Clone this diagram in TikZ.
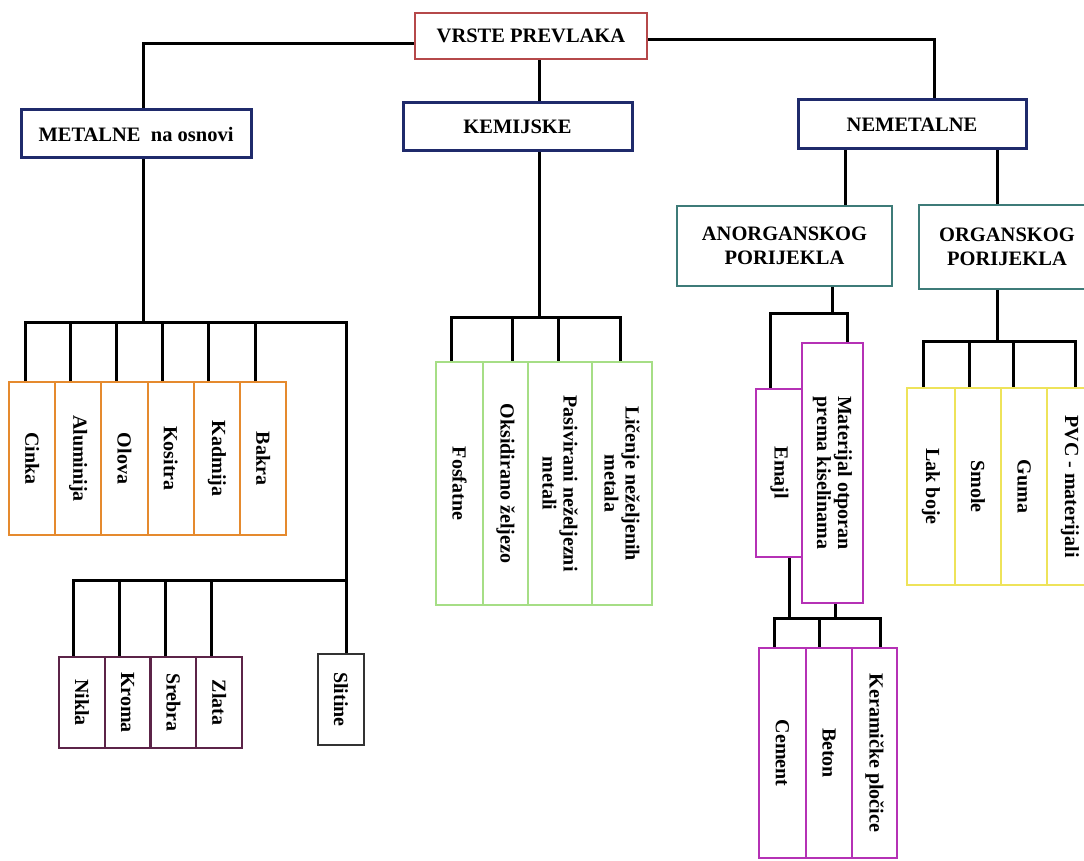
\documentclass[tikz,border=0pt]{standalone}
\usepackage{fontspec}
\setmainfont{Liberation Serif}
\usetikzlibrary{backgrounds}
\definecolor{rootred}{HTML}{B5484A}
\definecolor{navy}{HTML}{1F2A6B}
\definecolor{tealc}{HTML}{3E7B78}
\definecolor{orangec}{HTML}{E58A2E}
\definecolor{greenc}{HTML}{A6DE86}
\definecolor{darkpurple}{HTML}{5C2448}
\definecolor{slitc}{HTML}{333333}
\definecolor{magentac}{HTML}{B531B5}
\definecolor{yellowc}{HTML}{EEE35A}
\newcommand\lbl{\bfseries\fontsize{20}{21}\selectfont}
\newcommand\hlbl{\bfseries\fontsize{20.5}{24}\selectfont}
\begin{document}
\begin{tikzpicture}[x=1pt,y=-1pt,
  conn/.style={line width=3pt, draw=black, line join=miter},
  bx/.style={draw, line width=2pt, fill=white, inner sep=0pt, align=center, font=\lbl},
  hbx/.style={bx, line width=3pt, font=\hlbl},
  vbx/.style={bx, rotate=-90}]
\useasboundingbox (0,0) rectangle (1084,861);
\clip (0,0) rectangle (1084,861);

% top levels
\node[bx, font=\hlbl, draw=rootred, minimum width=232pt, minimum height=46pt] (root) at (531,36) {VRSTE PREVLAKA};
\node[hbx, draw=navy, minimum width=230pt, minimum height=48pt] (metal) at (136,134) {METALNE\ \ na osnovi};
\node[hbx, draw=navy, minimum width=229pt, minimum height=48pt] (kem) at (517.5,127) {KEMIJSKE};
\node[hbx, draw=navy, minimum width=228pt, minimum height=49pt] (nemet) at (912,124.5) {NEMETALNE};
\node[bx, font=\hlbl, draw=tealc, line width=2.5pt, minimum width=215pt, minimum height=80pt] (anorg) at (784.5,246) {ANORGANSKOG\\PORIJEKLA};
\node[bx, font=\hlbl, draw=tealc, line width=2.5pt, minimum width=176pt, minimum height=84pt] (org) at (1007,247) {ORGANSKOG\\PORIJEKLA};

% metal upper row
\tikzset{orng/.style={vbx, draw=orangec, minimum width=153pt, minimum height=46.2pt}}
\node[orng] (cinka) at (32.1,458.5) {Cinka};
\node[orng] (alum) at (78.3,458.5) {Aluminija};
\node[orng] (olova) at (124.5,458.5) {Olova};
\node[orng] (kositra) at (170.7,458.5) {Kositra};
\node[orng] (kadmija) at (216.9,458.5) {Kadmija};
\node[orng] (bakra) at (263.1,458.5) {Bakra};

% metal lower row
\tikzset{dpur/.style={vbx, draw=darkpurple, minimum width=91pt, minimum height=45.75pt}}
\node[dpur] (nikla) at (81.9,702.5) {Nikla};
\node[dpur] (kroma) at (127.6,702.5) {Kroma};
\node[dpur] (srebra) at (173.4,702.5) {Srebra};
\node[dpur] (zlata) at (219.1,702.5) {Zlata};
\node[vbx, draw=slitc, minimum width=91pt, minimum height=46pt] (slitine) at (341,699.5) {Slitine};

% kemijske
\tikzset{grn/.style={vbx, draw=greenc, minimum width=243pt}}
\node[grn, minimum height=47pt] (fosf) at (459.5,483.5) {Fosfatne};
\node[grn, minimum height=45pt] (oks) at (505.5,483.5) {Oksidirano željezo};
\node[grn, minimum height=64pt] (pas) at (560,483.5) {Pasivirani neželjezni\\metali};
\node[grn, minimum height=60pt] (lic) at (622,483.5) {Ličenje neželjenih\\metala};

% anorganskog
\tikzset{mag/.style={vbx, draw=magentac, line width=2.5pt}}
\node[mag, minimum width=168pt, minimum height=47pt] (emajl) at (779.5,473) {Emajl};
\node[mag, minimum width=260pt, minimum height=61pt] (mat) at (832.5,473) {Materijal otporan\\prema kiselinama};
\node[mag, minimum width=210pt, minimum height=47pt] (cement) at (782.5,753) {Cement};
\node[mag, minimum width=210pt, minimum height=46pt] (beton) at (829,753) {Beton};
\node[mag, minimum width=210pt, minimum height=45pt] (ker) at (874.5,753) {Keramičke pločice};

% organskog
\tikzset{ylw/.style={vbx, draw=yellowc, minimum width=197pt}}
\node[ylw, minimum height=48pt] (lak) at (931,486.5) {Lak boje};
\node[ylw, minimum height=46pt] (smole) at (978,486.5) {Smole};
\node[ylw, minimum height=46pt] (guma) at (1024,486.5) {Guma};
\node[ylw, minimum height=46pt] (pvc) at (1070,486.5) {PVC - materijali};

\begin{scope}[on background layer]
\fill[white] (0,0) rectangle (1084,861);
% coordinates for bends
\coordinate (mx) at (143,0);
\coordinate (nx) at (934,0);
\coordinate (kx) at (539,0);
\coordinate (uL) at (25,322);
\coordinate (uR) at (346,322);
\coordinate (lR) at (346,580);
\coordinate (kbL) at (451,317);
\coordinate (kbR) at (620,317);
\coordinate (ax) at (845,0);
\coordinate (ox) at (997,0);
\coordinate (ax2) at (832,0);
\coordinate (abL) at (770,313);
\coordinate (abR) at (847,313);
\coordinate (cbL) at (774,618);
\coordinate (cbR) at (880,618);
\coordinate (obL) at (923,341);
\coordinate (obR) at (1075,341);

% root
\draw[conn] ([yshift=-8pt]root.west) -| (mx |- metal.north);
\draw[conn] ([yshift=-4pt]root.east) -| (nx |- nemet.north);
\draw[conn] (kx |- root.south) -- (kx |- kem.north);

% metalne
\draw[conn] (mx |- metal.south) -- (mx |- uL);
\draw[conn] (uL |- cinka.west) -- (uL) -- (uR) -- (uR |- slitine.west);
\foreach \n in {alum,olova,kositra,kadmija,bakra}
  \draw[conn] ([xshift=-8pt]\n.west) -- ([xshift=-8pt]\n.west |- uL);
\draw[conn] ([xshift=-8pt]nikla.west) |- (lR);
\foreach \n in {kroma,srebra,zlata}
  \draw[conn] ([xshift=-8pt]\n.west) -- ([xshift=-8pt]\n.west |- lR);

% kemijske
\draw[conn] (kx |- kem.south) -- (kx |- kbL);
\draw[conn] (kbL |- fosf.west) -- (kbL) -- (kbR) -- (kbR |- lic.west);
\draw[conn] ([xshift=6.5pt]oks.west) -- ([xshift=6.5pt]oks.west |- kbL);
\draw[conn] ([xshift=-2pt]pas.west) -- ([xshift=-2pt]pas.west |- kbL);

% nemetalne
\draw[conn] (ax |- nemet.south) -- (ax |- anorg.north);
\draw[conn] (ox |- nemet.south) -- (ox |- org.north);

% anorganskog
\draw[conn] (ax2 |- anorg.south) -- (ax2 |- abL);
\draw[conn] (abL |- emajl.west) -- (abL) -- (abR) -- (abR |- mat.west);
\draw[conn] ([xshift=9.5pt]emajl.east) -- ([xshift=9.5pt]emajl.east |- cbL);
\draw[conn] ([xshift=2.5pt]mat.east) -- ([xshift=2.5pt]mat.east |- cbL);
\draw[conn] (cbL |- cement.west) -- (cbL) -- (cbR) -- (cbR |- ker.west);
\draw[conn] ([xshift=-10pt]beton.west) -- ([xshift=-10pt]beton.west |- cbL);

% organskog
\draw[conn] (ox |- org.south) -- (ox |- obL);
\draw[conn] (obL |- lak.west) -- (obL) -- (obR) -- (obR |- pvc.west);
\draw[conn] ([xshift=-9pt]smole.west) -- ([xshift=-9pt]smole.west |- obL);
\draw[conn] ([xshift=-11pt]guma.west) -- ([xshift=-11pt]guma.west |- obL);
\end{scope}
\end{tikzpicture}
\end{document}
